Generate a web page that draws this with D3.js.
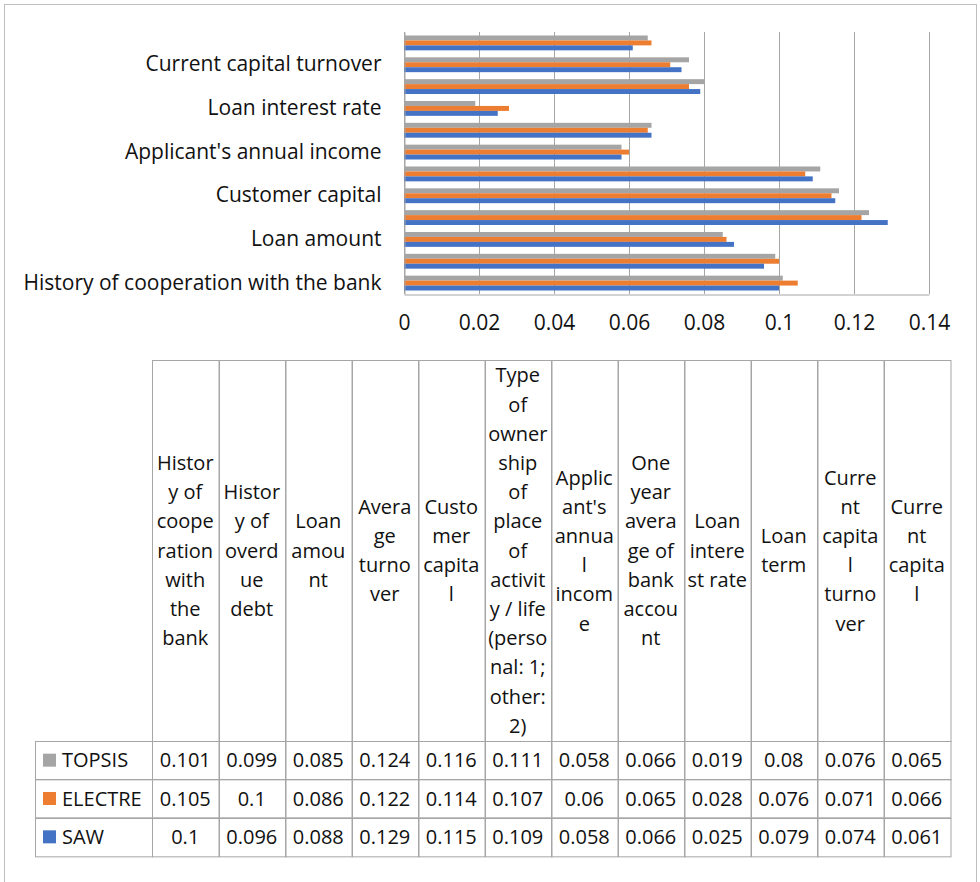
<!DOCTYPE html>
<html>
<head>
<meta charset="utf-8">
<script src="https://cdn.jsdelivr.net/npm/d3@7"></script>
<style>
  body { margin: 0; background: #fff; }
  svg { display: block; font-family: "Open Sans", Lato, sans-serif; }
</style>
</head>
<body>
<svg id="chart" width="980" height="882"></svg>
<script>
"use strict";

// criteria (first one is drawn at the bottom of the bar chart)
const categories = [
    "History of cooperation with the bank",
    "History of overdue debt",
    "Loan amount",
    "Average turnover",
    "Customer capital",
    "Type of ownership of place of activity / life (personal: 1; other: 2)",
    "Applicant's annual income",
    "One year average of bank account",
    "Loan interest rate",
    "Loan term",
    "Current capital turnover",
    "Current capital"
];

// header text of the data table, wrapped the same way as in the picture
const headerLines = [
    ["Histor", "y of", "coope", "ration", "with", "the", "bank"],
    ["Histor", "y of", "overd", "ue", "debt"],
    ["Loan", "amou", "nt"],
    ["Avera", "ge", "turno", "ver"],
    ["Custo", "mer", "capita", "l"],
    ["Type", "of", "owner", "ship", "of", "place", "of", "activit", "y / life", "(perso", "nal: 1;", "other:", "2)"],
    ["Applic", "ant's", "annua", "l", "incom", "e"],
    ["One", "year", "avera", "ge of", "bank", "accou", "nt"],
    ["Loan", "intere", "st rate"],
    ["Loan", "term"],
    ["Curre", "nt", "capita", "l", "turno", "ver"],
    ["Curre", "nt", "capita", "l"]
];

const seriesNames = ["TOPSIS", "ELECTRE", "SAW"];
const topsis  = [0.101, 0.099, 0.085, 0.124, 0.116, 0.111, 0.058, 0.066, 0.019, 0.08, 0.076, 0.065];
const electre = [0.105, 0.1, 0.086, 0.122, 0.114, 0.107, 0.06, 0.065, 0.028, 0.076, 0.071, 0.066];
const saw     = [0.1, 0.096, 0.088, 0.129, 0.115, 0.109, 0.058, 0.066, 0.025, 0.079, 0.074, 0.061];

const xTicks = [0, 0.02, 0.04, 0.06, 0.08, 0.1, 0.12, 0.14];

const seriesValues = { TOPSIS: topsis, ELECTRE: electre, SAW: saw };
const colors = { TOPSIS: "#A5A5A5", ELECTRE: "#ED7D31", SAW: "#4472C4" };
const lineColor = "#A6A6A6";
const textColor = "#111";
const fontFamily = "'Open Sans', Lato, sans-serif";

const svg = d3.select("#chart");

// outer chart frame
svg.append("rect")
    .attr("x", 4.5).attr("y", 4.5)
    .attr("width", 972).attr("height", 900)
    .attr("fill", "none")
    .attr("stroke", "#BFBFBF");

// scales
const x = d3.scaleLinear().domain([0, 0.14]).range([404, 929]);
const y = d3.scaleBand()
    .domain(categories)
    .range([294, 32])
    .paddingInner(0.32)
    .paddingOuter(0.16);
const ySeries = d3.scaleBand().domain(seriesNames).range([0, y.bandwidth()]);

// vertical gridlines
svg.append("g")
    .selectAll("line")
    .data(xTicks)
    .join("line")
    .attr("x1", d => Math.round(x(d)) + 0.5)
    .attr("x2", d => Math.round(x(d)) + 0.5)
    .attr("y1", 32)
    .attr("y2", 294)
    .attr("stroke", lineColor);

// bars
const rows = [];
categories.forEach((c, i) => {
    seriesNames.forEach(s => rows.push({ cat: c, series: s, value: seriesValues[s][i] }));
});

svg.append("g")
    .selectAll("rect")
    .data(rows)
    .join("rect")
    .attr("x", x(0))
    .attr("y", d => y(d.cat) + ySeries(d.series))
    .attr("width", d => x(d.value) - x(0))
    .attr("height", ySeries.bandwidth())
    .attr("fill", d => colors[d.series]);

// x axis (values)
const xAxis = svg.append("g")
    .attr("transform", "translate(0,294.5)")
    .call(d3.axisBottom(x).tickValues(xTicks).tickFormat(d => String(d)).tickSize(0).tickPadding(21));
xAxis.select(".domain").attr("stroke", lineColor);
xAxis.selectAll("text")
    .attr("font-size", 21)
    .attr("font-family", fontFamily)
    .attr("fill", textColor);

// y axis (criteria, every second label)
const yAxis = svg.append("g")
    .attr("transform", "translate(404.5,0)")
    .call(d3.axisLeft(y)
        .tickValues(categories.filter((d, i) => i % 2 === 0))
        .tickSize(0)
        .tickPadding(23));
yAxis.select(".domain").attr("stroke", lineColor);
yAxis.selectAll("text")
    .attr("font-size", 21)
    .attr("font-family", fontFamily)
    .attr("fill", textColor);

// data table
const col = d3.scaleBand().domain(categories).range([152, 950]);
const headerTop = 360, headerBottom = 741;
const row = d3.scaleBand().domain(seriesNames).range([741, 856]);
const lineStep = 29.2;

const table = svg.append("g");

// header cells
const head = table.selectAll("g.head")
    .data(categories)
    .join("g")
    .attr("class", "head");

head.append("rect")
    .attr("x", d => Math.round(col(d)) + 0.5)
    .attr("y", headerTop + 0.5)
    .attr("width", col.bandwidth())
    .attr("height", headerBottom - headerTop)
    .attr("fill", "none")
    .attr("stroke", lineColor);

head.append("text")
    .attr("text-anchor", "middle")
    .attr("font-size", 20)
    .attr("fill", textColor)
    .each(function (d, i) {
        const lines = headerLines[i];
        const mid = (headerTop + headerBottom) / 2;
        d3.select(this).selectAll("tspan")
            .data(lines)
            .join("tspan")
            .attr("x", col(d) + col.bandwidth() / 2)
            .attr("y", (t, j) => mid + (j - (lines.length - 1) / 2) * lineStep)
            .attr("dy", "0.35em")
            .text(t => t);
    });

// legend cells
const legendLeft = 35;
const legend = table.selectAll("g.legend")
    .data(seriesNames)
    .join("g")
    .attr("class", "legend");

legend.append("rect")
    .attr("x", legendLeft + 0.5)
    .attr("y", d => Math.round(row(d)) + 0.5)
    .attr("width", col.range()[0] - legendLeft)
    .attr("height", row.bandwidth())
    .attr("fill", "none")
    .attr("stroke", lineColor);

legend.append("rect")
    .attr("x", legendLeft + 8)
    .attr("y", d => row(d) + row.bandwidth() / 2 - 6.5)
    .attr("width", 13)
    .attr("height", 13)
    .attr("fill", d => colors[d]);

legend.append("text")
    .attr("x", legendLeft + 27)
    .attr("y", d => row(d) + row.bandwidth() / 2)
    .attr("dy", "0.35em")
    .attr("font-size", 20)
    .attr("fill", textColor)
    .text(d => d);

// value cells
const cells = [];
seriesNames.forEach(s => {
    categories.forEach((c, i) => cells.push({ series: s, cat: c, value: seriesValues[s][i] }));
});

const cell = table.selectAll("g.cell")
    .data(cells)
    .join("g")
    .attr("class", "cell");

cell.append("rect")
    .attr("x", d => Math.round(col(d.cat)) + 0.5)
    .attr("y", d => Math.round(row(d.series)) + 0.5)
    .attr("width", col.bandwidth())
    .attr("height", row.bandwidth())
    .attr("fill", "none")
    .attr("stroke", lineColor);

cell.append("text")
    .attr("x", d => col(d.cat) + col.bandwidth() / 2)
    .attr("y", d => row(d.series) + row.bandwidth() / 2)
    .attr("dy", "0.35em")
    .attr("text-anchor", "middle")
    .attr("font-size", 20)
    .attr("fill", textColor)
    .text(d => String(d.value));
</script>
</body>
</html>
